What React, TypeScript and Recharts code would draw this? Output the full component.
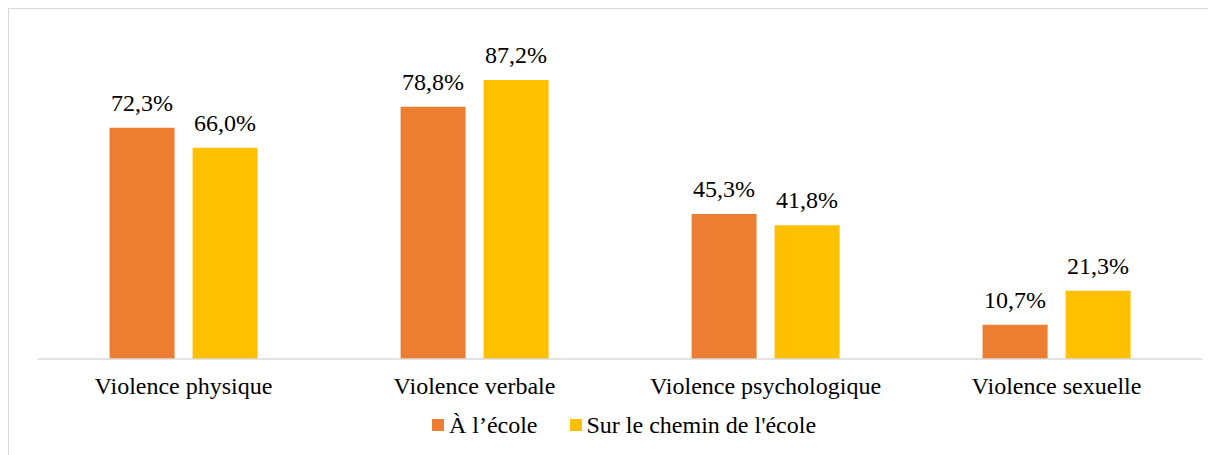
import { BarChart, Bar, XAxis, YAxis, Legend, LabelList } from "recharts";

const categories = ["Violence physique", "Violence verbale", "Violence psychologique", "Violence sexuelle"];
const aLecole = [72.3, 78.8, 45.3, 10.7];
const surLeChemin = [66.0, 87.2, 41.8, 21.3];
const seriesNames = ["À l’école", "Sur le chemin de l'école"];

const ORANGE = "#ED7D31";
const YELLOW = "#FFC000";
const FONT = '"Liberation Serif", "Times New Roman", serif';

const data = categories.map((c, i) => ({
  name: c,
  ecole: aLecole[i],
  chemin: surLeChemin[i],
}));

const fmt = (v: any) => `${Number(v).toFixed(1).replace(".", ",")}%`;

function LegendContent() {
  const items = [
    { label: seriesNames[0], color: ORANGE },
    { label: seriesNames[1], color: YELLOW },
  ];
  return (
    <div
      style={{
        display: "flex",
        justifyContent: "center",
        gap: 32,
        paddingLeft: 8,
        fontFamily: FONT,
        fontSize: 24,
        lineHeight: "30px",
        color: "#000",
      }}
    >
      {items.map((it) => (
        <div key={it.label} style={{ display: "flex", alignItems: "center" }}>
          <span style={{ display: "inline-block", width: 12, height: 12, background: it.color, marginRight: 5 }} />
          <span>{it.label}</span>
        </div>
      ))}
    </div>
  );
}

export default function App() {
  return (
    <div style={{ width: 1205, height: 450, border: "1px solid #d9d9d9", background: "#fff" }}>
      <BarChart
        width={1205}
        height={450}
        data={data}
        margin={{ top: 30, right: 12, left: 29, bottom: 17 }}
        barCategoryGap="24.6%"
        barGap={18}
      >
        <XAxis
          dataKey="name"
          axisLine={{ stroke: "#d9d9d9", strokeWidth: 1.5 }}
          tickLine={false}
          tickSize={0}
          tickMargin={18}
          height={51}
          tick={{ fill: "#000", fontSize: 24, fontFamily: FONT }}
          interval={0}
        />
        <YAxis hide domain={[0, 100]} />
        <Legend verticalAlign="bottom" height={32} content={<LegendContent />} />
        <Bar dataKey="ecole" name={seriesNames[0]} fill={ORANGE} isAnimationActive={false}>
          <LabelList dataKey="ecole" position="top" offset={17} formatter={fmt} fill="#000" fontSize={24} fontFamily={FONT} />
        </Bar>
        <Bar dataKey="chemin" name={seriesNames[1]} fill={YELLOW} isAnimationActive={false}>
          <LabelList dataKey="chemin" position="top" offset={17} formatter={fmt} fill="#000" fontSize={24} fontFamily={FONT} />
        </Bar>
      </BarChart>
    </div>
  );
}
